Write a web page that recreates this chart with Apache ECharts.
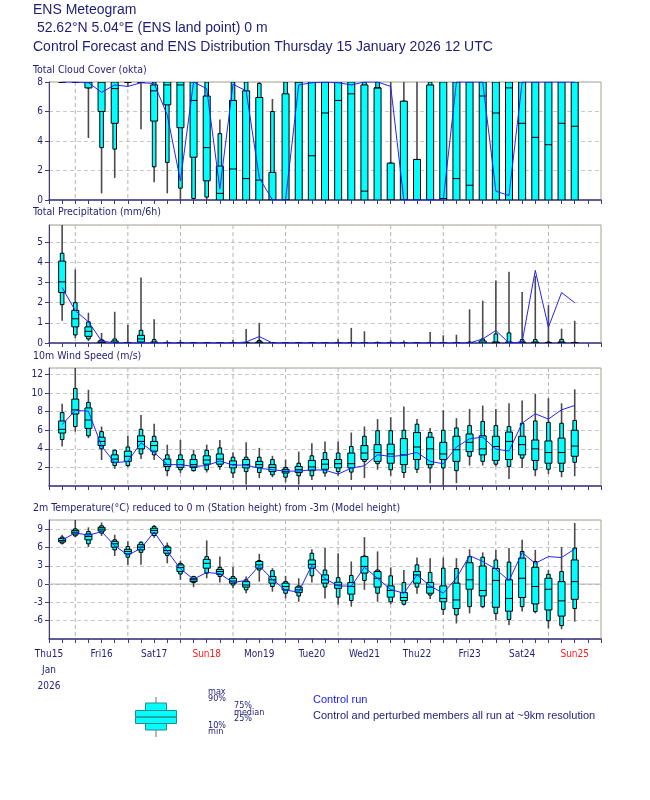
<!DOCTYPE html>
<html><head><meta charset="utf-8">
<script src="https://cdn.jsdelivr.net/npm/echarts@6/dist/echarts.min.js"></script>
<style>html,body{margin:0;padding:0;background:#fff}#c{width:650px;height:800px}</style>
</head><body><div id="c"></div><script>
// time steps: hours since 15 Jan 2026 00 UTC
const steps = [18,24,30,36,42,48,54,60,66,72,78,84,90,96,102,108,114,120,126,132,138,144,150,156,162,168,174,180,186,192,198,204,210,216,222,228,234,240,246,252];
const midnights = [24,48,72,96,120,144,168,192,216,240];
const dayTicks = [12,36,60,84,108,132,156,180,204,228,252];
const dayNames = ['Thu15','Fri16','Sat17','Sun18','Mon19','Tue20','Wed21','Thu22','Fri23','Sat24','Sun25'];

// Total cloud cover (okta)
const cloudMin = [8,8,4.2,0.45,1.5,7.7,4.8,1.2,0.45,0, 0,0,0,0,0,0,0,0,0,0, 0,0,0,0,0,0,0,0,0,0, 0,0,0,0,0,0,0,0,0,0];
const cloudP10 = [8,8,7.6,3.55,3.45,8,8,2.25,2.55,0.8, 0.1,0.2,0,0,0,0,0,0,0,0, 0,0,0,0,0,0,0,0,0,0, 0,0,0,0,0,0,0,0,0,0];
const cloudP25 = [8,8,7.6,6.0,5.2,8,8,5.35,6.45,4.9, 2.9,1.3,0,0,0,0,0,0,0,0, 0,0,0,0,0,0,0,0,0,0, 0,0,0,0,0,0,0,0,0,0];
const cloudMed = [8,8,8,8,7.55,8,8,7.4,7.8,7.8, 6.75,3.55,0.45,2.1,1.45,1.35,0,0,8,3.0, 5.9,6.75,7.2,0.6,7.6,0,0,0,0,0.1, 1.45,1.0,7.05,5.9,7.6,5.2,4.25,3.75,5.2,5.0];
const cloudP75 = [8,8,8,8,8,8,8,7.8,8,8, 8,7.05,2.3,6.75,7.4,6.95,1.87,7.2,8,8, 8,8,8,7.8,7.6,2.5,6.7,2.75,7.8,8, 8,8,8,8,8,8,8,8,8,8];
const cloudP90 = [8,8,8,8,8,8,8,8,8,8, 8,8,4.5,8,8,7.9,6.0,8,8,8, 8,8,8,8,8,2.5,6.7,2.75,8,8, 8,8,8,8,8,8,8,8,8,8];
const cloudMax = [8,8,8,8,8,8,8,8,8,8, 8,8,5.45,8,8,8,6.85,8,8,8, 8,8,8,8,8,8,8,8,8,8, 8,8,8,8,8,8,8,8,8,8];
const cloudCtrl = [8,8,7.95,7.3,7.8,7.7,7.95,7.9,5.75,1.3, 8,7.55,0.75,7.85,7.4,1.5,0,0,7.8,7.95, 8,7.95,7.8,8,8,7.7,0,0,0,0, 8,8,8,0.6,0.3,8,8,8,8,8];

// Total precipitation (mm/6h)
const precMin = [1.1,0.25,0.1,0,0,0,0,0,0,0, 0,0,0,0,0,0,0,0,0,0, 0,0,0,0,0,0,0,0,0,0, 0,0,0,0,0,0,0,0,0,0];
const precP10 = [1.9,0.4,0.2,0,0,0,0,0,0,0, 0,0,0,0,0,0,0,0,0,0, 0,0,0,0,0,0,0,0,0,0, 0,0,0,0,0,0,0,0,0,0];
const precP25 = [2.5,0.8,0.33,0,0,0,0.05,0,0,0, 0,0,0,0,0,0,0,0,0,0, 0,0,0,0,0,0,0,0,0,0, 0,0,0,0,0,0,0,0,0,0];
const precMed = [3.03,1.2,0.58,0.03,0.03,0,0.2,0,0,0, 0,0,0,0,0,0,0,0,0,0, 0,0,0,0,0,0,0,0,0,0, 0,0,0,0.02,0,0,0,0,0,0];
const precP75 = [4.06,1.62,0.8,0.1,0.1,0,0.38,0.05,0,0, 0,0,0,0,0,0.05,0,0,0,0, 0,0,0,0,0,0,0,0,0,0, 0,0,0.1,0.05,0.05,0.05,0.05,0,0.05,0];
const precP90 = [4.45,2.0,1.05,0.16,0.2,0.03,0.63,0.17,0,0, 0,0,0,0,0,0.13,0,0,0,0, 0,0,0,0,0,0,0,0,0,0, 0,0.05,0.2,0.45,0.5,0.17,0.17,0.05,0.18,0.03];
const precMax = [5.85,3.65,1.5,0.5,1.55,0.9,3.25,1.18,0.13,0.15, 0,0,0,0.15,0.7,1.0,0,0,0,0, 0,0.18,0.75,0.58,0.08,0.13,0.13,0,0.55,0.38, 0.41,1.67,2.1,3.1,3.53,2.53,3.33,1.87,0.71,1.1];
const precCtrl = [2.75,1.6,1.05,0.1,0,0,0,0,0,0, 0,0,0,0,0.05,0.32,0,0,0,0, 0,0,0,0,0,0,0,0,0,0, 0,0,0.2,0.62,0,0.05,3.6,0.78,2.5,2.0];

// 10m wind speed (m/s)
const windMin = [4.25,5.85,5.15,2.8,1.85,2.05,2.9,2.8,1.05,1.4, 1.55,1.45,1.75,0.85,0.15,0.85,0.95,0.4,0.15,0.65, 1.0,1.1,0.65,0.85,1.75,1.1,0.85,1.4,0.3,0.0, 0.3,2.2,2.2,2.1,0.75,1.95,1.05,1.3,0.95,1.05];
const windP10 = [5.0,6.4,5.4,4.0,2.2,2.2,3.45,3.35,1.65,1.75, 1.65,1.75,2.1,1.4,1.55,1.45,1.2,0.95,1.1,1.1, 1.4,1.55,1.5,2.65,2.4,1.75,1.45,1.8,1.95,1.95, 1.65,3.2,2.65,2.35,2.1,3.0,1.75,1.8,1.55,2.55];
const windP25 = [5.7,7.75,6.2,4.35,2.55,2.65,4.0,3.75,2.1,2.0, 2.0,2.35,2.35,1.95,1.95,2.0,1.55,1.4,1.45,1.65, 1.8,1.95,1.95,2.85,2.65,2.45,2.3,2.85,2.3,2.85, 2.65,3.7,3.35,2.75,2.85,3.35,2.75,2.45,2.45,3.2];
const windMed = [6.1,8.2,7.1,4.8,2.9,3.2,4.8,4.35,2.3,2.3, 2.3,2.8,2.9,2.3,2.3,2.3,2.0,1.55,1.75,2.05, 2.35,2.4,2.4,3.55,3.6,3.45,3.35,4.2,4.0,3.45, 3.9,4.7,4.0,4.25,4.8,4.45,4.0,3.6,3.6,4.3];
const windP75 = [7.0,9.35,8.4,5.25,3.35,3.75,5.4,4.8,2.9,2.85, 2.85,3.25,3.45,2.7,2.85,2.65,2.3,1.8,2.1,2.75, 2.85,2.85,3.55,4.35,4.45,4.5,5.1,5.75,5.25,4.7, 5.35,5.6,5.4,5.35,5.8,5.35,4.95,4.85,5.15,6.0];
const windP90 = [7.9,10.5,9.0,5.85,3.85,4.2,6.1,5.35,3.35,3.35, 3.35,3.85,4.1,3.1,3.1,3.1,2.85,2.0,2.45,3.25, 3.6,3.55,4.25,5.35,5.95,5.95,6.0,6.65,5.75,6.0, 6.25,6.5,6.95,6.5,6.4,6.75,7.0,6.85,6.75,7.05];
const windMax = [8.85,12.7,10.35,6.4,3.9,5.4,7.65,6.7,4.45,4.95, 3.9,4.45,4.95,3.6,4.7,4.1,3.25,2.85,3.7,4.6, 4.8,4.8,5.75,6.4,7.2,7.4,8.55,7.2,6.25,8.15, 7.3,8.3,8.65,8.3,8.9,9.2,9.9,9.45,8.9,10.4];
const windCtrl = [6.6,8.15,8.05,4.3,2.5,2.65,4.65,3.6,2.3,2.3, 2.1,2.2,2.7,2.25,2.25,1.9,1.75,1.6,1.6,1.75, 1.7,1.28,1.93,2.18,3.36,3.18,3.3,3.61,2.65,2.39, 4.19,5.08,5.26,3.97,3.76,6.77,7.77,7.2,8.2,8.67];

// 2m temperature (°C)
const tempMin = [6.5,7.7,6.05,7.9,4.6,3.15,3.15,7.6,3.4,0.7, -0.5,0.95,0.25,-0.7,-1.5,0.4,-1.25,-2.35,-2.9,0.25, -2.35,-3.4,-3.7,-0.95,-2.9,-3.3,-3.5,-1.6,-2.45,-5.05, -6.45,-4.8,-3.95,-5.9,-6.7,-4.5,-4.8,-7.25,-7.4,-6.15];
const tempP10 = [6.7,7.9,6.6,8.35,5.6,4.4,5.2,7.95,4.7,1.65, 0.25,1.8,1.25,-0.15,-0.95,2.3,-0.4,-1.5,-1.95,1.35, -0.5,-2.15,-2.7,0.6,-1.5,-2.9,-3.3,-0.5,-1.8,-4.15, -5.05,-3.7,-3.7,-4.8,-5.8,-3.7,-4.5,-6.0,-6.8,-4.0];
const tempP25 = [6.9,8.2,7.25,8.7,6.05,4.95,5.6,8.35,5.05,2.05, 0.4,2.6,1.6,0.15,-0.5,2.6,0.15,-0.95,-1.4,2.6, 0.15,-0.7,-1.65,1.8,-0.5,-2.15,-2.7,0.15,-1.5,-2.9, -4.0,-0.85,-1.95,-3.8,-4.45,-2.2,-3.25,-4.25,-5.25,-2.5];
const tempMed = [7.15,8.5,7.8,9.0,6.6,5.35,6.05,8.8,5.5,2.7, 0.7,3.4,2.05,0.5,-0.15,3.15,0.7,-0.4,-0.95,3.25, 0.7,-0.15,-0.4,2.9,0.95,-1.05,-2.2,1.5,-0.5,-2.35, -2.6,0.7,-1.05,0.6,-2.35,0.95,-0.4,-0.85,-2.75,0.4];
const tempP75 = [7.5,8.8,8.2,9.3,7.0,5.7,6.45,9.15,6.05,3.15, 0.95,4.05,2.4,0.95,0.4,3.7,1.25,0.15,-0.5,3.95, 1.5,0.3,0.25,4.5,2.05,-0.3,-1.4,2.05,0.25,-0.3, 0.15,3.5,2.95,2.55,0.7,4.25,2.75,0.95,0.4,3.95];
const tempP90 = [7.7,9.05,8.6,9.55,7.25,6.15,6.85,9.45,6.25,3.4, 1.25,4.5,2.75,1.25,0.7,3.85,2.2,0.4,-0.3,5.05, 2.3,1.05,1.4,4.6,2.3,1.35,0.25,3.15,1.9,2.6, 2.55,4.5,4.4,3.95,3.6,5.35,3.7,1.6,2.05,5.9];
const tempMax = [8.1,10.5,9.3,10.1,8.1,7.0,7.0,9.7,6.8,3.85, 1.35,7.15,4.5,2.85,1.25,4.95,2.6,1.35,0.95,5.7, 5.9,5.05,3.7,7.7,5.35,2.75,2.3,4.35,4.25,4.35, 4.25,5.7,5.2,5.6,5.9,7.25,5.6,2.3,6.05,10.0];
const tempCtrl = [7.2,8.4,8.0,8.6,6.3,4.75,5.85,8.55,5.4,2.5, 0.8,1.9,1.7,0.25,0.6,3.0,0.75,-1.0,-1.3,3.1, 0.9,-0.3,-0.35,2.75,0.95,-0.9,-1.5,1.5,-0.3,-1.5, 1.0,4.65,3.7,2.45,0.55,5.15,3.4,4.5,4.35,5.75];

const NAVY = '#1e1e74';
const AXIS = '#3a3a88';
const NARROW = '"Liberation Sans Narrow","DejaVu Sans Condensed","Liberation Sans",Arial,sans-serif';
const SANS = '"Liberation Sans",Arial,sans-serif';

function boxData(mn,p10,p25,md,p75,p90,mx){
  return steps.map((t,i)=>[t,mn[i],p10[i],p25[i],md[i],p75[i],p90[i],mx[i]]);
}
function renderBox(params, api){
  const t = api.value(0);
  const y = k => api.coord([t, api.value(k)])[1];
  const x = api.coord([t, api.value(4)])[0];
  const yMin=y(1), y10=y(2), y25=y(3), ym=y(4), y75=y(5), y90=y(6), yMax=y(7);
  const W=3.5, w=1.8;
  return {type:'group', children:[
    {type:'line', shape:{x1:x,y1:yMax,x2:x,y2:yMin}, style:{stroke:'#4a4a4a', lineWidth:1.6}},
    {type:'rect', shape:{x:x-w,y:y90,width:2*w,height:y10-y90}, style:{fill:'#00ffff', stroke:'#000', lineWidth:1}},
    {type:'rect', shape:{x:x-W,y:y75,width:2*W,height:y25-y75}, style:{fill:'#00ffff', stroke:'#000', lineWidth:1}},
    {type:'line', shape:{x1:x-W,y1:ym,x2:x+W,y2:ym}, style:{stroke:'#000', lineWidth:1}}
  ]};
}
function renderVLine(params, api){
  const cs = params.coordSys;
  const x = api.coord([api.value(0), api.value(1)])[0];
  return {type:'line', shape:{x1:x,y1:cs.y,x2:x,y2:cs.y+cs.height}, style:{stroke:'#b4b4b4', lineWidth:1, lineDash:[4,3]}};
}
function renderHLine(params, api){
  const cs = params.coordSys;
  const yy = api.coord([api.value(0), api.value(1)])[1];
  return {type:'line', shape:{x1:cs.x,y1:yy,x2:cs.x+cs.width,y2:yy}, style:{stroke:'#b0b0b0', lineWidth:1}};
}

const grids = [
  {left:49, width:552, top:82, height:118},
  {left:49, width:552, top:225, height:118},
  {left:49, width:552, top:368, height:118},
  {left:49, width:552, top:520, height:119}
].map(g=>Object.assign(g,{show:true, borderColor:'#a89e8e', borderWidth:1, backgroundColor:'transparent'}));

function makeX(gi, labels){
  const ax = {type:'value', gridIndex:gi, min:12, max:264, interval:6,
    axisLine:{show:true, onZero:false, lineStyle:{color:AXIS, width:1.5}},
    axisTick:{show:true, inside:false, length:4, lineStyle:{color:AXIS}},
    splitLine:{show:false}, axisLabel:{show:false}};
  if (labels){
    ax.axisLabel = {show:true, margin:7, interval:0,
      formatter: v => {
        const k = dayTicks.indexOf(v);
        if (k < 0) return '';
        const n = dayNames[k];
        let s = '{' + (n.indexOf('Sun')===0 ? 's' : 'n') + '|' + n + '}';
        if (k === 0) s += '\n{n|Jan}\n{n|2026}';
        return s;
      },
      rich:{
        n:{color:NAVY, fontSize:10, fontFamily:NARROW, lineHeight:16},
        s:{color:'#ff1a1a', fontSize:10, fontFamily:NARROW, lineHeight:16}
      }};
  }
  return ax;
}
function makeY(gi, min, max, interval, showMin, showMax){
  return {type:'value', gridIndex:gi, min:min, max:max, interval:interval,
    axisLine:{show:true, lineStyle:{color:AXIS, width:1}},
    axisTick:{show:true, length:4, lineStyle:{color:AXIS}},
    axisLabel:{color:NAVY, fontSize:10, fontFamily:NARROW, margin:6, showMinLabel:showMin, showMaxLabel:showMax},
    splitLine:{show:true, lineStyle:{color:'#c8c8c8', type:[4,3], width:1}}};
}

const boxes = [
  boxData(cloudMin,cloudP10,cloudP25,cloudMed,cloudP75,cloudP90,cloudMax),
  boxData(precMin,precP10,precP25,precMed,precP75,precP90,precMax),
  boxData(windMin,windP10,windP25,windMed,windP75,windP90,windMax),
  boxData(tempMin,tempP10,tempP25,tempMed,tempP75,tempP90,tempMax)
];
const ctrls = [cloudCtrl, precCtrl, windCtrl, tempCtrl];

const series = [];
for (let g=0; g<4; g++){
  series.push({type:'custom', xAxisIndex:g, yAxisIndex:g, z:1, silent:true,
    data: midnights.map(t=>[t, 0]), encode:{x:0, y:1}, renderItem:renderVLine});
  series.push({type:'custom', xAxisIndex:g, yAxisIndex:g, z:3, silent:true, clip:true,
    data: boxes[g], encode:{x:0, y:[1,2,3,4,5,6,7]}, renderItem:renderBox});
  series.push({type:'line', xAxisIndex:g, yAxisIndex:g, z:5, silent:true, showSymbol:false, symbol:'none',
    data: steps.map((t,i)=>[t, ctrls[g][i]]), lineStyle:{color:'#2323ff', width:1}, animation:false});
}
series.push({type:'custom', xAxisIndex:3, yAxisIndex:3, z:2, silent:true,
  data:[[12,0]], encode:{x:0,y:1}, renderItem:renderHLine});

function txt(x, y, s, font, color){
  return {type:'text', x:x, y:y, silent:true,
    style:{text:s, font:font, fill:color||NAVY, textAlign:'left', textVerticalAlign:'middle', verticalAlign:'middle'}};
}
const graphics = [
  txt(33, 10, 'ENS Meteogram', '14px ' + SANS),
  txt(33, 28, ' 52.62°N 5.04°E (ENS land point) 0 m', '14px ' + SANS),
  txt(33, 47, 'Control Forecast and ENS Distribution Thursday 15 January 2026 12 UTC', '14px ' + SANS),
  txt(33, 70, 'Total Cloud Cover (okta)', '10.5px ' + NARROW),
  txt(33, 212, 'Total Precipitation (mm/6h)', '10.5px ' + NARROW),
  txt(33, 356, '10m Wind Speed (m/s)', '10.5px ' + NARROW),
  txt(33, 508, '2m Temperature(°C) reduced to 0 m (Station height) from -3m (Model height)', '10.5px ' + NARROW),
  // legend glyph
  {type:'line', silent:true, shape:{x1:156,y1:697,x2:156,y2:737}, style:{stroke:'#b8b8b8', lineWidth:2}},
  {type:'rect', silent:true, shape:{x:145.5,y:703,width:21,height:27}, style:{fill:'#00ffff', stroke:'#2a8a8a', lineWidth:1}},
  {type:'rect', silent:true, shape:{x:135.5,y:710.5,width:41,height:13}, style:{fill:'#00ffff', stroke:'#2a8a8a', lineWidth:1}},
  {type:'line', silent:true, shape:{x1:135.5,y1:717,x2:176.5,y2:717}, style:{stroke:'#2a8a8a', lineWidth:1.5}},
  txt(208, 692, 'max', '9px ' + NARROW),
  txt(208, 699, '90%', '9px ' + NARROW),
  txt(234, 706, '75%', '9px ' + NARROW),
  txt(234, 712.5, 'median', '9px ' + NARROW),
  txt(234, 719, '25%', '9px ' + NARROW),
  txt(208, 726, '10%', '9px ' + NARROW),
  txt(208, 732, 'min', '9px ' + NARROW),
  txt(313, 700, 'Control run', '11px ' + SANS, '#2020ff'),
  txt(313, 716, 'Control and perturbed members all run at ~9km resolution', '11px ' + SANS)
];

const chart = echarts.init(document.getElementById('c'), null, {renderer:'canvas'});
chart.setOption({
  animation:false,
  backgroundColor:'#ffffff',
  grid: grids,
  xAxis: [makeX(0,false), makeX(1,false), makeX(2,false), makeX(3,true)],
  yAxis: [makeY(0,0,8,2,true,true), makeY(1,0,5.85,1,true,false), makeY(2,0,12.7,2,false,false), makeY(3,-9,10.5,3,false,false)],
  series: series,
  graphic: graphics
});
</script></body></html>
